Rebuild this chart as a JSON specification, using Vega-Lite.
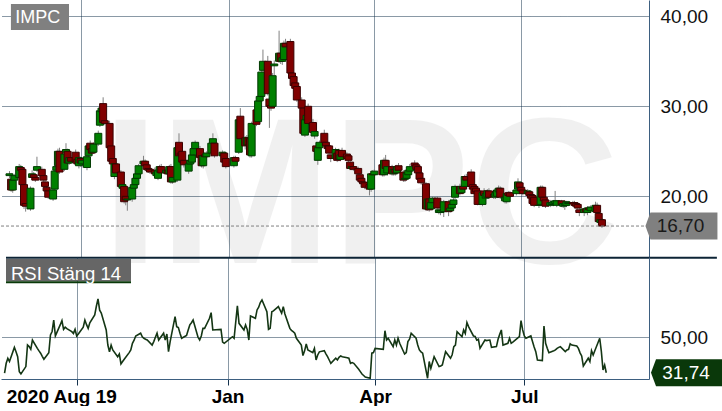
{
  "$schema": "https://vega.github.io/schema/vega-lite/v6.json",
  "padding": 0,
  "background": "white",
  "bounds": "flush",
  "spacing": 0,
  "config": {
    "view": {"stroke": null},
    "font": "Liberation Sans",
    "locale": {"number": {"decimal": ",", "thousands": " ", "grouping": [3], "currency": ["", " kr"]}}
  },
  "datasets": {
    "last": [{"price": 16.70, "rsi": 31.74}],
    "ohlc": [
      {"d":"2020-08-18","o":22.3,"h":22.8,"l":22.0,"c":22.5,"r":31.5},
      {"d":"2020-08-19","o":21.9,"h":22.6,"l":20.5,"c":20.7,"r":36.6},
      {"d":"2020-08-20","o":20.7,"h":22.0,"l":20.4,"c":21.8,"r":39.2},
      {"d":"2020-08-21","o":21.8,"h":22.5,"l":21.6,"c":22.3,"r":37.5},
      {"d":"2020-08-24","o":22.1,"h":23.6,"l":21.9,"c":23.3,"r":44.8},
      {"d":"2020-08-25","o":23.2,"h":23.5,"l":22.7,"c":22.9,"r":42.6},
      {"d":"2020-08-26","o":23.0,"h":23.2,"l":21.1,"c":21.3,"r":40.0},
      {"d":"2020-08-27","o":21.3,"h":21.9,"l":18.6,"c":19.0,"r":32.3},
      {"d":"2020-08-28","o":19.2,"h":19.7,"l":18.3,"c":18.9,"r":31.1},
      {"d":"2020-08-31","o":18.6,"h":21.1,"l":18.4,"c":20.9,"r":34.9},
      {"d":"2020-09-01","o":22.1,"h":22.9,"l":21.8,"c":22.5,"r":46.0},
      {"d":"2020-09-02","o":22.4,"h":22.7,"l":21.9,"c":22.1,"r":45.2},
      {"d":"2020-09-03","o":22.1,"h":22.3,"l":21.6,"c":21.8,"r":43.8},
      {"d":"2020-09-04","o":22.9,"h":24.4,"l":22.7,"c":23.3,"r":48.6},
      {"d":"2020-09-07","o":23.0,"h":23.3,"l":22.1,"c":22.3,"r":44.3},
      {"d":"2020-09-08","o":22.3,"h":22.5,"l":21.6,"c":21.8,"r":43.0},
      {"d":"2020-09-09","o":21.6,"h":21.8,"l":21.0,"c":21.1,"r":41.8},
      {"d":"2020-09-10","o":21.0,"h":21.2,"l":20.4,"c":20.6,"r":40.2},
      {"d":"2020-09-11","o":20.6,"h":20.8,"l":19.7,"c":19.9,"r":38.7},
      {"d":"2020-09-14","o":19.7,"h":20.9,"l":19.5,"c":20.7,"r":42.0},
      {"d":"2020-09-15","o":20.8,"h":23.0,"l":20.6,"c":22.8,"r":51.2},
      {"d":"2020-09-16","o":22.9,"h":23.6,"l":22.6,"c":23.3,"r":53.0},
      {"d":"2020-09-17","o":23.4,"h":25.3,"l":23.2,"c":25.0,"r":58.9},
      {"d":"2020-09-18","o":25.0,"h":25.4,"l":22.5,"c":22.7,"r":50.7},
      {"d":"2020-09-21","o":23.0,"h":24.9,"l":22.8,"c":24.7,"r":56.5},
      {"d":"2020-09-22","o":24.9,"h":25.9,"l":24.6,"c":25.2,"r":58.6},
      {"d":"2020-09-23","o":25.0,"h":25.3,"l":23.5,"c":23.7,"r":54.1},
      {"d":"2020-09-24","o":23.7,"h":24.5,"l":23.5,"c":24.3,"r":55.2},
      {"d":"2020-09-25","o":24.3,"h":24.6,"l":23.6,"c":23.9,"r":54.5},
      {"d":"2020-09-28","o":24.9,"h":25.2,"l":23.6,"c":23.8,"r":52.9},
      {"d":"2020-09-29","o":24.1,"h":24.3,"l":23.4,"c":23.6,"r":52.0},
      {"d":"2020-09-30","o":23.4,"h":24.5,"l":23.1,"c":24.3,"r":54.1},
      {"d":"2020-10-01","o":24.2,"h":24.4,"l":23.3,"c":23.7,"r":50.7},
      {"d":"2020-10-02","o":23.6,"h":24.2,"l":23.2,"c":24.0,"r":51.7},
      {"d":"2020-10-05","o":23.2,"h":24.6,"l":22.9,"c":24.4,"r":55.2},
      {"d":"2020-10-06","o":24.5,"h":25.8,"l":24.3,"c":25.6,"r":58.9},
      {"d":"2020-10-07","o":25.9,"h":26.2,"l":25.0,"c":25.2,"r":56.5},
      {"d":"2020-10-08","o":25.3,"h":25.6,"l":24.6,"c":24.8,"r":54.6},
      {"d":"2020-10-09","o":24.9,"h":26.0,"l":24.7,"c":25.8,"r":57.5},
      {"d":"2020-10-12","o":25.8,"h":27.3,"l":25.6,"c":27.0,"r":61.5},
      {"d":"2020-10-13","o":27.9,"h":29.7,"l":27.7,"c":29.5,"r":66.0},
      {"d":"2020-10-14","o":29.4,"h":30.1,"l":29.0,"c":29.8,"r":69.8},
      {"d":"2020-10-15","o":30.3,"h":31.0,"l":28.0,"c":28.2,"r":64.0},
      {"d":"2020-10-16","o":28.4,"h":28.7,"l":27.9,"c":28.1,"r":62.5},
      {"d":"2020-10-19","o":28.1,"h":28.4,"l":25.2,"c":25.4,"r":53.8},
      {"d":"2020-10-20","o":25.6,"h":25.9,"l":23.7,"c":23.9,"r":46.0},
      {"d":"2020-10-21","o":24.2,"h":24.6,"l":23.4,"c":23.6,"r":42.5},
      {"d":"2020-10-22","o":22.2,"h":23.8,"l":21.9,"c":23.6,"r":46.0},
      {"d":"2020-10-23","o":23.6,"h":23.8,"l":22.4,"c":22.6,"r":43.5},
      {"d":"2020-10-26","o":22.7,"h":22.9,"l":20.9,"c":21.1,"r":40.0},
      {"d":"2020-10-27","o":20.9,"h":21.5,"l":20.7,"c":21.3,"r":41.4},
      {"d":"2020-10-28","o":21.1,"h":21.3,"l":19.2,"c":19.4,"r":36.3},
      {"d":"2020-10-29","o":20.0,"h":20.3,"l":19.0,"c":19.6,"r":37.5},
      {"d":"2020-10-30","o":19.6,"h":20.0,"l":18.4,"c":19.7,"r":38.7},
      {"d":"2020-11-02","o":19.7,"h":21.2,"l":19.4,"c":21.0,"r":42.1},
      {"d":"2020-11-03","o":20.9,"h":21.6,"l":20.6,"c":21.3,"r":43.5},
      {"d":"2020-11-04","o":21.3,"h":22.2,"l":21.0,"c":22.0,"r":46.9},
      {"d":"2020-11-05","o":22.0,"h":22.8,"l":21.8,"c":22.5,"r":48.5},
      {"d":"2020-11-06","o":22.5,"h":23.6,"l":22.3,"c":23.4,"r":50.7},
      {"d":"2020-11-09","o":23.6,"h":24.5,"l":23.4,"c":23.9,"r":52.1},
      {"d":"2020-11-10","o":23.9,"h":24.1,"l":23.2,"c":23.4,"r":50.3},
      {"d":"2020-11-11","o":23.5,"h":23.9,"l":22.9,"c":23.0,"r":49.5},
      {"d":"2020-11-12","o":23.1,"h":23.3,"l":22.6,"c":22.9,"r":49.0},
      {"d":"2020-11-13","o":23.0,"h":23.3,"l":22.5,"c":22.7,"r":48.6},
      {"d":"2020-11-16","o":22.9,"h":23.2,"l":22.3,"c":22.5,"r":46.0},
      {"d":"2020-11-17","o":22.3,"h":22.9,"l":22.0,"c":22.7,"r":47.8},
      {"d":"2020-11-18","o":22.0,"h":23.1,"l":21.8,"c":22.9,"r":50.0},
      {"d":"2020-11-19","o":22.7,"h":23.5,"l":22.4,"c":23.3,"r":52.1},
      {"d":"2020-11-20","o":23.3,"h":23.6,"l":22.4,"c":22.6,"r":48.6},
      {"d":"2020-11-23","o":22.6,"h":23.2,"l":22.4,"c":22.9,"r":52.1},
      {"d":"2020-11-24","o":22.9,"h":23.1,"l":22.3,"c":22.5,"r":48.6},
      {"d":"2020-11-25","o":22.5,"h":23.5,"l":22.4,"c":23.3,"r":51.7},
      {"d":"2020-11-26","o":23.3,"h":23.6,"l":21.4,"c":21.6,"r":42.6},
      {"d":"2020-11-27","o":21.6,"h":22.3,"l":21.4,"c":22.1,"r":47.8},
      {"d":"2020-11-30","o":21.8,"h":25.6,"l":21.6,"c":25.4,"r":60.7},
      {"d":"2020-12-01","o":26.0,"h":27.0,"l":24.3,"c":24.5,"r":55.5},
      {"d":"2020-12-02","o":24.8,"h":25.1,"l":24.0,"c":24.6,"r":55.0},
      {"d":"2020-12-03","o":25.0,"h":25.3,"l":23.6,"c":23.8,"r":52.1},
      {"d":"2020-12-04","o":24.0,"h":24.2,"l":23.2,"c":23.5,"r":49.5},
      {"d":"2020-12-07","o":22.8,"h":23.7,"l":22.5,"c":23.6,"r":51.0},
      {"d":"2020-12-08","o":23.6,"h":24.2,"l":23.3,"c":24.0,"r":53.8},
      {"d":"2020-12-09","o":23.8,"h":24.8,"l":23.5,"c":24.6,"r":56.4},
      {"d":"2020-12-10","o":24.6,"h":25.5,"l":24.4,"c":25.3,"r":57.5},
      {"d":"2020-12-11","o":25.3,"h":26.2,"l":25.1,"c":26.0,"r":58.9},
      {"d":"2020-12-14","o":25.3,"h":25.6,"l":24.1,"c":24.3,"r":50.0},
      {"d":"2020-12-15","o":24.5,"h":24.7,"l":23.2,"c":23.4,"r":48.6},
      {"d":"2020-12-16","o":23.4,"h":24.7,"l":23.1,"c":24.5,"r":50.7},
      {"d":"2020-12-17","o":24.6,"h":24.9,"l":24.2,"c":24.4,"r":54.6},
      {"d":"2020-12-18","o":24.4,"h":25.0,"l":24.2,"c":24.8,"r":54.6},
      {"d":"2020-12-21","o":24.8,"h":26.1,"l":24.6,"c":25.9,"r":59.8},
      {"d":"2020-12-22","o":25.9,"h":27.0,"l":25.7,"c":26.4,"r":62.7},
      {"d":"2020-12-23","o":25.9,"h":26.1,"l":24.3,"c":24.5,"r":53.8},
      {"d":"2020-12-28","o":24.5,"h":25.1,"l":24.2,"c":24.9,"r":54.1},
      {"d":"2020-12-29","o":24.8,"h":25.0,"l":23.6,"c":23.8,"r":47.5},
      {"d":"2020-12-30","o":24.2,"h":24.5,"l":23.1,"c":23.3,"r":46.9},
      {"d":"2021-01-04","o":23.4,"h":24.5,"l":23.2,"c":24.3,"r":50.3},
      {"d":"2021-01-05","o":24.3,"h":24.5,"l":23.7,"c":23.9,"r":49.5},
      {"d":"2021-01-07","o":24.9,"h":28.7,"l":24.7,"c":28.5,"r":66.2},
      {"d":"2021-01-08","o":28.9,"h":29.8,"l":26.2,"c":26.4,"r":57.2},
      {"d":"2021-01-11","o":26.5,"h":26.7,"l":25.2,"c":25.6,"r":53.8},
      {"d":"2021-01-12","o":25.7,"h":26.8,"l":25.5,"c":26.5,"r":56.4},
      {"d":"2021-01-13","o":26.5,"h":26.8,"l":25.4,"c":25.7,"r":54.1},
      {"d":"2021-01-14","o":26.4,"h":26.6,"l":24.3,"c":24.6,"r":48.6},
      {"d":"2021-01-15","o":24.5,"h":28.3,"l":24.3,"c":28.1,"r":61.0},
      {"d":"2021-01-18","o":29.6,"h":30.0,"l":27.8,"c":28.0,"r":59.8},
      {"d":"2021-01-19","o":28.3,"h":30.8,"l":28.1,"c":30.6,"r":64.1},
      {"d":"2021-01-20","o":30.6,"h":31.5,"l":30.4,"c":31.1,"r":65.5},
      {"d":"2021-01-21","o":31.1,"h":34.2,"l":30.9,"c":33.8,"r":67.9},
      {"d":"2021-01-22","o":34.0,"h":36.3,"l":33.6,"c":35.0,"r":69.2},
      {"d":"2021-01-25","o":35.0,"h":35.6,"l":31.2,"c":31.4,"r":63.2},
      {"d":"2021-01-26","o":30.8,"h":31.0,"l":27.6,"c":30.0,"r":54.1},
      {"d":"2021-01-27","o":30.1,"h":30.4,"l":29.5,"c":29.8,"r":54.6},
      {"d":"2021-01-28","o":30.0,"h":33.7,"l":29.8,"c":33.4,"r":63.2},
      {"d":"2021-01-29","o":34.5,"h":35.1,"l":33.4,"c":34.7,"r":63.6},
      {"d":"2021-02-01","o":35.0,"h":38.4,"l":34.8,"c":35.9,"r":65.8},
      {"d":"2021-02-02","o":35.9,"h":36.8,"l":34.7,"c":35.0,"r":64.1},
      {"d":"2021-02-03","o":35.0,"h":36.0,"l":34.6,"c":35.4,"r":62.4},
      {"d":"2021-02-04","o":35.2,"h":37.3,"l":35.0,"c":37.0,"r":65.8},
      {"d":"2021-02-05","o":37.0,"h":37.5,"l":36.2,"c":36.6,"r":62.0},
      {"d":"2021-02-08","o":37.2,"h":37.5,"l":33.5,"c":33.7,"r":54.6},
      {"d":"2021-02-09","o":33.7,"h":34.0,"l":32.9,"c":33.1,"r":53.5},
      {"d":"2021-02-10","o":33.3,"h":33.6,"l":32.1,"c":32.3,"r":52.9},
      {"d":"2021-02-11","o":32.6,"h":32.9,"l":31.8,"c":32.0,"r":52.1},
      {"d":"2021-02-12","o":32.2,"h":32.5,"l":30.5,"c":30.7,"r":49.5},
      {"d":"2021-02-15","o":30.7,"h":31.0,"l":29.6,"c":29.8,"r":46.0},
      {"d":"2021-02-16","o":29.8,"h":30.0,"l":26.8,"c":27.0,"r":40.6},
      {"d":"2021-02-17","o":26.8,"h":28.7,"l":26.6,"c":28.5,"r":43.0},
      {"d":"2021-02-18","o":28.5,"h":29.3,"l":28.2,"c":29.0,"r":46.6},
      {"d":"2021-02-19","o":30.0,"h":30.3,"l":27.9,"c":28.1,"r":43.5},
      {"d":"2021-02-22","o":28.2,"h":28.6,"l":26.9,"c":27.1,"r":42.1},
      {"d":"2021-02-23","o":26.7,"h":27.4,"l":26.4,"c":27.2,"r":44.3},
      {"d":"2021-02-24","o":25.6,"h":25.9,"l":24.8,"c":25.0,"r":38.3},
      {"d":"2021-02-25","o":24.0,"h":25.6,"l":23.5,"c":25.4,"r":40.9},
      {"d":"2021-02-26","o":25.4,"h":26.2,"l":25.1,"c":26.0,"r":42.5},
      {"d":"2021-03-01","o":27.0,"h":27.4,"l":25.8,"c":26.0,"r":43.1},
      {"d":"2021-03-02","o":26.0,"h":26.3,"l":25.4,"c":25.6,"r":41.5},
      {"d":"2021-03-03","o":25.6,"h":25.9,"l":25.0,"c":25.3,"r":40.0},
      {"d":"2021-03-04","o":25.6,"h":25.8,"l":24.6,"c":24.8,"r":38.3},
      {"d":"2021-03-05","o":24.6,"h":24.8,"l":23.8,"c":24.2,"r":36.6},
      {"d":"2021-03-08","o":24.2,"h":25.4,"l":24.0,"c":25.2,"r":39.2},
      {"d":"2021-03-09","o":24.8,"h":25.1,"l":23.8,"c":24.0,"r":38.3},
      {"d":"2021-03-10","o":25.1,"h":25.3,"l":23.9,"c":24.1,"r":39.7},
      {"d":"2021-03-11","o":24.1,"h":24.8,"l":23.9,"c":24.6,"r":40.4},
      {"d":"2021-03-12","o":25.1,"h":25.4,"l":24.2,"c":24.4,"r":40.0},
      {"d":"2021-03-15","o":24.7,"h":24.9,"l":24.0,"c":24.2,"r":39.5},
      {"d":"2021-03-16","o":24.5,"h":24.7,"l":23.8,"c":24.0,"r":39.2},
      {"d":"2021-03-17","o":23.8,"h":24.0,"l":22.9,"c":23.1,"r":36.6},
      {"d":"2021-03-18","o":23.1,"h":23.5,"l":22.9,"c":23.3,"r":37.0},
      {"d":"2021-03-19","o":23.3,"h":23.5,"l":22.8,"c":23.0,"r":36.6},
      {"d":"2021-03-22","o":23.1,"h":23.3,"l":22.3,"c":22.5,"r":33.5},
      {"d":"2021-03-23","o":22.4,"h":22.6,"l":21.6,"c":21.8,"r":32.3},
      {"d":"2021-03-24","o":22.0,"h":22.2,"l":21.4,"c":21.6,"r":31.1},
      {"d":"2021-03-25","o":21.6,"h":21.8,"l":21.2,"c":21.4,"r":30.3},
      {"d":"2021-03-26","o":21.5,"h":21.7,"l":20.8,"c":21.0,"r":29.5},
      {"d":"2021-03-29","o":21.3,"h":21.5,"l":20.1,"c":20.8,"r":28.9},
      {"d":"2021-03-30","o":20.8,"h":22.8,"l":20.5,"c":22.5,"r":41.8},
      {"d":"2021-03-31","o":22.5,"h":22.9,"l":22.2,"c":22.4,"r":42.1},
      {"d":"2021-04-01","o":22.4,"h":23.0,"l":22.2,"c":22.8,"r":44.3},
      {"d":"2021-04-06","o":23.5,"h":24.0,"l":22.2,"c":22.4,"r":43.8},
      {"d":"2021-04-07","o":22.4,"h":24.3,"l":22.2,"c":24.0,"r":53.4},
      {"d":"2021-04-08","o":24.0,"h":24.6,"l":22.9,"c":23.1,"r":48.6},
      {"d":"2021-04-09","o":22.6,"h":23.5,"l":22.3,"c":23.3,"r":49.5},
      {"d":"2021-04-12","o":23.3,"h":23.5,"l":22.3,"c":22.5,"r":45.2},
      {"d":"2021-04-13","o":22.5,"h":23.2,"l":22.3,"c":23.0,"r":48.6},
      {"d":"2021-04-14","o":23.0,"h":23.2,"l":22.3,"c":22.6,"r":46.0},
      {"d":"2021-04-15","o":22.6,"h":23.5,"l":22.4,"c":23.3,"r":49.5},
      {"d":"2021-04-16","o":23.4,"h":23.7,"l":22.7,"c":22.9,"r":46.9},
      {"d":"2021-04-19","o":22.7,"h":22.9,"l":21.6,"c":21.8,"r":41.4},
      {"d":"2021-04-20","o":21.9,"h":22.3,"l":21.6,"c":22.0,"r":42.1},
      {"d":"2021-04-21","o":22.0,"h":22.9,"l":21.8,"c":22.6,"r":47.8},
      {"d":"2021-04-22","o":22.4,"h":23.1,"l":22.2,"c":22.9,"r":49.0},
      {"d":"2021-04-23","o":22.8,"h":23.6,"l":22.5,"c":23.3,"r":52.1},
      {"d":"2021-04-26","o":23.7,"h":24.0,"l":23.2,"c":23.4,"r":49.5},
      {"d":"2021-04-27","o":23.5,"h":23.7,"l":22.8,"c":23.0,"r":46.0},
      {"d":"2021-04-28","o":23.3,"h":23.5,"l":22.4,"c":22.6,"r":43.5},
      {"d":"2021-04-29","o":22.6,"h":22.8,"l":21.7,"c":21.9,"r":42.5},
      {"d":"2021-04-30","o":22.0,"h":22.2,"l":21.3,"c":21.5,"r":41.8},
      {"d":"2021-05-03","o":21.4,"h":21.6,"l":18.4,"c":18.6,"r":28.9},
      {"d":"2021-05-04","o":18.6,"h":19.9,"l":18.4,"c":19.7,"r":37.5},
      {"d":"2021-05-05","o":19.7,"h":19.9,"l":18.3,"c":18.5,"r":34.0},
      {"d":"2021-05-06","o":18.6,"h":19.5,"l":18.5,"c":19.3,"r":37.0},
      {"d":"2021-05-07","o":19.3,"h":20.0,"l":19.1,"c":19.8,"r":40.0},
      {"d":"2021-05-10","o":19.8,"h":20.0,"l":18.5,"c":18.7,"r":34.9},
      {"d":"2021-05-11","o":18.2,"h":18.7,"l":18.0,"c":18.5,"r":35.2},
      {"d":"2021-05-12","o":18.2,"h":18.6,"l":17.9,"c":18.4,"r":35.7},
      {"d":"2021-05-14","o":18.3,"h":19.6,"l":17.7,"c":19.4,"r":42.6},
      {"d":"2021-05-17","o":19.4,"h":19.6,"l":17.8,"c":18.3,"r":39.2},
      {"d":"2021-05-18","o":18.4,"h":18.9,"l":18.2,"c":18.7,"r":41.0},
      {"d":"2021-05-19","o":18.7,"h":19.3,"l":18.5,"c":19.1,"r":45.2},
      {"d":"2021-05-20","o":19.1,"h":19.8,"l":18.9,"c":19.6,"r":46.0},
      {"d":"2021-05-21","o":19.9,"h":21.3,"l":19.7,"c":21.1,"r":52.9},
      {"d":"2021-05-24","o":21.1,"h":21.4,"l":20.1,"c":20.3,"r":50.3},
      {"d":"2021-05-25","o":20.4,"h":21.3,"l":20.3,"c":21.1,"r":53.8},
      {"d":"2021-05-26","o":21.1,"h":21.4,"l":20.5,"c":20.8,"r":52.0},
      {"d":"2021-05-27","o":21.1,"h":22.4,"l":20.9,"c":22.2,"r":57.6},
      {"d":"2021-05-28","o":22.2,"h":22.5,"l":21.5,"c":21.8,"r":55.5},
      {"d":"2021-05-31","o":22.7,"h":23.0,"l":20.9,"c":21.1,"r":50.7},
      {"d":"2021-06-01","o":21.3,"h":21.5,"l":20.6,"c":20.8,"r":50.5},
      {"d":"2021-06-02","o":21.1,"h":21.3,"l":20.1,"c":20.3,"r":48.5},
      {"d":"2021-06-03","o":20.9,"h":21.1,"l":20.3,"c":20.5,"r":49.0},
      {"d":"2021-06-04","o":20.6,"h":20.8,"l":19.0,"c":19.1,"r":44.3},
      {"d":"2021-06-07","o":19.1,"h":20.6,"l":18.9,"c":20.4,"r":48.6},
      {"d":"2021-06-08","o":20.6,"h":20.9,"l":19.9,"c":20.1,"r":48.3},
      {"d":"2021-06-09","o":19.8,"h":20.5,"l":19.6,"c":20.3,"r":48.5},
      {"d":"2021-06-10","o":19.9,"h":20.8,"l":19.7,"c":20.6,"r":48.6},
      {"d":"2021-06-11","o":20.6,"h":20.9,"l":19.7,"c":19.9,"r":44.8},
      {"d":"2021-06-14","o":20.2,"h":20.6,"l":19.7,"c":20.0,"r":45.2},
      {"d":"2021-06-15","o":19.9,"h":20.6,"l":19.7,"c":20.4,"r":49.0},
      {"d":"2021-06-16","o":20.0,"h":21.0,"l":19.8,"c":20.7,"r":51.5},
      {"d":"2021-06-17","o":20.5,"h":21.2,"l":20.3,"c":20.9,"r":53.8},
      {"d":"2021-06-18","o":20.9,"h":21.1,"l":19.7,"c":19.9,"r":46.0},
      {"d":"2021-06-21","o":19.5,"h":20.1,"l":19.2,"c":19.9,"r":46.9},
      {"d":"2021-06-22","o":19.4,"h":20.5,"l":19.2,"c":20.3,"r":49.5},
      {"d":"2021-06-23","o":20.4,"h":20.6,"l":19.9,"c":20.1,"r":46.9},
      {"d":"2021-06-24","o":20.4,"h":20.6,"l":19.8,"c":20.0,"r":47.5},
      {"d":"2021-06-28","o":20.3,"h":20.9,"l":20.1,"c":20.7,"r":50.3},
      {"d":"2021-06-29","o":20.8,"h":22.0,"l":20.7,"c":21.6,"r":58.6},
      {"d":"2021-06-30","o":21.5,"h":21.6,"l":20.8,"c":21.0,"r":53.8},
      {"d":"2021-07-01","o":21.0,"h":21.2,"l":20.4,"c":20.6,"r":50.7},
      {"d":"2021-07-02","o":20.7,"h":20.9,"l":20.1,"c":20.3,"r":49.5},
      {"d":"2021-07-05","o":20.3,"h":20.8,"l":20.1,"c":20.6,"r":50.7},
      {"d":"2021-07-06","o":20.5,"h":20.7,"l":19.9,"c":20.1,"r":47.8},
      {"d":"2021-07-07","o":20.2,"h":20.4,"l":19.6,"c":19.8,"r":45.0},
      {"d":"2021-07-08","o":20.1,"h":20.3,"l":19.0,"c":19.2,"r":42.6},
      {"d":"2021-07-09","o":19.9,"h":20.1,"l":18.8,"c":19.0,"r":38.3},
      {"d":"2021-07-12","o":19.0,"h":19.4,"l":18.7,"c":19.0,"r":38.0},
      {"d":"2021-07-13","o":19.1,"h":21.2,"l":18.9,"c":21.0,"r":55.8},
      {"d":"2021-07-14","o":21.0,"h":21.2,"l":19.6,"c":19.9,"r":46.9},
      {"d":"2021-07-15","o":19.9,"h":20.1,"l":19.2,"c":19.5,"r":44.3},
      {"d":"2021-07-16","o":19.6,"h":19.9,"l":18.7,"c":18.9,"r":42.1},
      {"d":"2021-07-19","o":19.0,"h":19.6,"l":18.8,"c":19.3,"r":43.1},
      {"d":"2021-07-20","o":19.1,"h":19.5,"l":18.9,"c":19.3,"r":43.5},
      {"d":"2021-07-21","o":19.1,"h":19.6,"l":18.9,"c":19.4,"r":44.3},
      {"d":"2021-07-22","o":19.2,"h":20.6,"l":19.0,"c":19.5,"r":44.8},
      {"d":"2021-07-23","o":19.0,"h":19.6,"l":18.8,"c":19.5,"r":45.2},
      {"d":"2021-07-26","o":19.5,"h":19.6,"l":18.8,"c":19.1,"r":42.6},
      {"d":"2021-07-27","o":18.9,"h":19.5,"l":18.7,"c":19.2,"r":43.5},
      {"d":"2021-07-28","o":19.0,"h":19.4,"l":18.5,"c":19.2,"r":43.8},
      {"d":"2021-07-29","o":19.0,"h":19.5,"l":18.8,"c":19.4,"r":46.6},
      {"d":"2021-07-30","o":19.2,"h":19.5,"l":18.9,"c":19.3,"r":46.0},
      {"d":"2021-08-02","o":19.3,"h":19.5,"l":18.9,"c":19.2,"r":45.5},
      {"d":"2021-08-03","o":19.3,"h":19.5,"l":18.8,"c":19.0,"r":44.3},
      {"d":"2021-08-04","o":19.2,"h":19.3,"l":18.6,"c":18.9,"r":42.0},
      {"d":"2021-08-05","o":19.1,"h":19.3,"l":18.5,"c":18.7,"r":40.4},
      {"d":"2021-08-06","o":18.5,"h":18.7,"l":17.8,"c":18.2,"r":35.2},
      {"d":"2021-08-09","o":18.2,"h":18.7,"l":17.8,"c":18.6,"r":39.2},
      {"d":"2021-08-10","o":18.6,"h":18.8,"l":18.1,"c":18.3,"r":37.5},
      {"d":"2021-08-11","o":18.2,"h":18.9,"l":17.9,"c":18.7,"r":43.1},
      {"d":"2021-08-12","o":18.7,"h":18.9,"l":18.2,"c":18.5,"r":40.9},
      {"d":"2021-08-13","o":18.4,"h":19.0,"l":18.2,"c":18.8,"r":43.1},
      {"d":"2021-08-16","o":18.3,"h":19.4,"l":18.2,"c":19.0,"r":49.5},
      {"d":"2021-08-17","o":19.0,"h":19.3,"l":18.0,"c":18.2,"r":42.6},
      {"d":"2021-08-18","o":18.1,"h":18.3,"l":17.0,"c":17.2,"r":33.2},
      {"d":"2021-08-19","o":17.1,"h":17.6,"l":16.9,"c":17.4,"r":35.7},
      {"d":"2021-08-20","o":17.4,"h":17.6,"l":16.5,"c":16.7,"r":31.74}
    ]
  },
  "vconcat": [
    {
      "width": 648,
      "height": 257,
      "layer": [
        {
          "data": {"values": [{"t": "IMPC"}]},
          "mark": {"type": "text", "font": "Liberation Sans", "fontSize": 207, "fontWeight": "bold", "fill": "#000000", "opacity": 0.055, "align": "center", "baseline": "alphabetic"},
          "encoding": {
            "x": {
              "datum": {"year": 2021, "month": 3, "date": 23, "hours": 10, "utc": true}, "type": "temporal",
              "scale": {"type": "utc", "domain": [{"year": 2020, "month": 8, "date": 15, "hours": 20, "utc": true}, {"year": 2021, "month": 9, "date": 15, "hours": 1, "minutes": 18, "utc": true}]},
              "axis": {
                "title": null, "labels": false, "ticks": false, "domain": false,
                "values": [{"year": 2020, "month": 10, "date": 1, "utc": true}, {"year": 2021, "month": 1, "date": 1, "utc": true}, {"year": 2021, "month": 4, "date": 1, "utc": true}, {"year": 2021, "month": 7, "date": 1, "utc": true}],
                "grid": true, "gridColor": "#15324d", "gridDash": [1, 1], "gridWidth": 1
              }
            },
            "y": {
              "datum": 12.59, "type": "quantitative",
              "scale": {"domain": [13.26, 41.81], "nice": false, "zero": false},
              "axis": {
                "title": null, "orient": "right", "values": [20, 30, 40], "format": ".2f",
                "labelFont": "Liberation Sans", "labelFontSize": 19, "labelColor": "#111111", "labelPadding": 11,
                "ticks": false, "domain": true, "domainColor": "#3d5f80", "domainWidth": 1,
                "grid": true, "gridColor": "#15324d", "gridDash": [1, 1], "gridWidth": 1
              }
            },
            "text": {"field": "t"}
          }
        },
        {
          "data": {"values": [{}]},
          "mark": {"type": "rect", "fill": "#808080"},
          "encoding": {
            "x": {"datum": {"year": 2020, "month": 8, "date": 18, "hours": 21, "minutes": 12, "utc": true}, "type": "temporal"},
            "x2": {"datum": {"year": 2020, "month": 9, "date": 23, "hours": 20, "minutes": 45, "utc": true}},
            "y": {"datum": 41.37, "type": "quantitative"},
            "y2": {"datum": 38.48}
          }
        },
        {
          "data": {"values": [{"t": "IMPC"}]},
          "mark": {"type": "text", "font": "Liberation Sans", "fontSize": 18, "fill": "#ffffff", "align": "left", "baseline": "alphabetic"},
          "encoding": {
            "x": {"datum": {"year": 2020, "month": 8, "date": 21, "hours": 15, "utc": true}, "type": "temporal"},
            "y": {"datum": 39.29, "type": "quantitative"},
            "text": {"field": "t"}
          }
        },
        {
          "data": {"name": "ohlc"},
          "mark": {"type": "rule", "stroke": "#808080", "strokeWidth": 1},
          "encoding": {
            "x": {"field": "d", "type": "temporal", "title": null},
            "y": {"field": "l", "type": "quantitative", "title": null},
            "y2": {"field": "h"}
          }
        },
        {
          "data": {"name": "ohlc"},
          "mark": {"type": "bar", "size": 7, "strokeWidth": 1},
          "encoding": {
            "x": {"field": "d", "type": "temporal", "title": null},
            "y": {"field": "o", "type": "quantitative", "title": null},
            "y2": {"field": "c"},
            "fill": {"condition": {"test": "datum.c >= datum.o", "value": "#008000"}, "value": "#800000"},
            "stroke": {"condition": {"test": "datum.c >= datum.o", "value": "#003a00"}, "value": "#3a0000"}
          }
        },
        {
          "data": {"name": "last"},
          "mark": {"type": "rule", "stroke": "#808080", "strokeWidth": 1, "strokeDash": [3, 2]},
          "encoding": {
            "y": {"field": "price", "type": "quantitative", "title": null}
          }
        },
        {
          "data": {"values": [{}]},
          "mark": {"type": "rule", "stroke": "#0d2436", "strokeWidth": 2},
          "encoding": {
            "x": {"datum": {"year": 2020, "month": 8, "date": 15, "hours": 20, "utc": true}, "type": "temporal"},
            "x2": {"datum": {"year": 2021, "month": 10, "date": 30, "hours": 5, "utc": true}},
            "y": {"datum": 13.19, "type": "quantitative"}
          }
        },
        {
          "data": {"name": "last"},
          "mark": {"type": "point", "shape": "M-1,0L-0.86,-0.375L1,-0.375L1,0.375L-0.86,0.375Z", "size": 5184, "filled": true, "fill": "#808080", "opacity": 1, "strokeWidth": 0},
          "encoding": {
            "x": {"datum": {"year": 2021, "month": 10, "date": 8, "hours": 5, "minutes": 36, "utc": true}, "type": "temporal"},
            "y": {"field": "price", "type": "quantitative", "title": null}
          }
        },
        {
          "data": {"name": "last"},
          "mark": {"type": "text", "font": "Liberation Sans", "fontSize": 19, "fill": "#1a1a1a", "align": "center", "baseline": "middle"},
          "encoding": {
            "x": {"datum": {"year": 2021, "month": 10, "date": 7, "hours": 15, "utc": true}, "type": "temporal"},
            "y": {"field": "price", "type": "quantitative", "title": null},
            "text": {"field": "price", "type": "quantitative", "format": ".2f"}
          }
        }
      ]
    },
    {
      "width": 648,
      "height": 122,
      "layer": [
        {
          "data": {"values": [{}]},
          "mark": {"type": "rect", "fill": "#666666"},
          "encoding": {
            "x": {
              "datum": {"year": 2020, "month": 8, "date": 18, "hours": 21, "minutes": 12, "utc": true}, "type": "temporal",
              "scale": {"type": "utc", "domain": [{"year": 2020, "month": 8, "date": 15, "hours": 20, "utc": true}, {"year": 2021, "month": 9, "date": 15, "hours": 1, "minutes": 18, "utc": true}]},
              "axis": {
                "title": null,
                "values": [{"year": 2020, "month": 8, "date": 19, "utc": true}, {"year": 2020, "month": 10, "date": 1, "utc": true}, {"year": 2021, "month": 1, "date": 1, "utc": true}, {"year": 2021, "month": 4, "date": 1, "utc": true}, {"year": 2021, "month": 7, "date": 1, "utc": true}],
                "labelExpr": "utcmonth(datum.value) == 7 ? '2020 Aug 19' : utcmonth(datum.value) == 0 ? 'Jan' : utcmonth(datum.value) == 3 ? 'Apr' : utcmonth(datum.value) == 6 ? 'Jul' : ''",
                "labelAlign": {"condition": {"test": "utcmonth(datum.value) == 7", "value": "left"}, "value": "center"},
                "labelFont": "Liberation Sans", "labelFontWeight": "bold", "labelFontSize": 19, "labelColor": "#000000",
                "labelFlush": false, "labelOverlap": false, "labelPadding": 2, "labelBound": false,
                "tickSize": 6, "tickWidth": 1,
                "tickColor": {"condition": {"test": "utcmonth(datum.value) == 7", "value": "transparent"}, "value": "#15324d"},
                "grid": true, "gridDash": [1, 1], "gridWidth": 1,
                "gridColor": {"condition": {"test": "utcmonth(datum.value) == 7", "value": "transparent"}, "value": "#15324d"},
                "domain": true, "domainColor": "#3d5f80", "domainWidth": 1
              }
            },
            "x2": {"datum": {"year": 2020, "month": 11, "date": 3, "hours": 3, "utc": true}},
            "y": {
              "datum": 90.37, "type": "quantitative",
              "scale": {"domain": [28.5, 91.4], "nice": false, "zero": false},
              "axis": {
                "title": null, "orient": "right", "values": [50], "format": ".2f",
                "labelFont": "Liberation Sans", "labelFontSize": 19, "labelColor": "#111111", "labelPadding": 11,
                "ticks": false, "domain": true, "domainColor": "#3d5f80", "domainWidth": 1,
                "grid": true, "gridColor": "#15324d", "gridDash": [1, 1], "gridWidth": 1
              }
            },
            "y2": {"datum": 78.87}
          }
        },
        {
          "data": {"values": [{}]},
          "mark": {"type": "rect", "fill": "#0a3a0a"},
          "encoding": {
            "x": {"datum": {"year": 2020, "month": 8, "date": 18, "hours": 21, "minutes": 12, "utc": true}, "type": "temporal"},
            "x2": {"datum": {"year": 2020, "month": 11, "date": 3, "hours": 3, "utc": true}},
            "y": {"datum": 78.87, "type": "quantitative"},
            "y2": {"datum": 77.84}
          }
        },
        {
          "data": {"values": [{"t": "RSI Stäng 14"}]},
          "mark": {"type": "text", "font": "Liberation Sans", "fontSize": 18.5, "fill": "#ffffff", "align": "left", "baseline": "alphabetic"},
          "encoding": {
            "x": {"datum": {"year": 2020, "month": 8, "date": 21, "hours": 22, "utc": true}, "type": "temporal"},
            "y": {"datum": 79.75, "type": "quantitative"},
            "text": {"field": "t"}
          }
        },
        {
          "data": {"name": "ohlc"},
          "mark": {"type": "line", "stroke": "#143614", "strokeWidth": 1.6, "clip": true, "interpolate": "linear"},
          "encoding": {
            "x": {"field": "d", "type": "temporal", "title": null},
            "y": {"field": "r", "type": "quantitative", "title": null}
          }
        },
        {
          "data": {"name": "last"},
          "mark": {"type": "point", "shape": "M-1,0L-0.86,-0.375L1,-0.375L1,0.375L-0.86,0.375Z", "size": 5184, "filled": true, "fill": "#0a380a", "opacity": 1, "strokeWidth": 0},
          "encoding": {
            "x": {"datum": {"year": 2021, "month": 10, "date": 8, "hours": 5, "minutes": 36, "utc": true}, "type": "temporal"},
            "y": {"field": "rsi", "type": "quantitative", "title": null}
          }
        },
        {
          "data": {"name": "last"},
          "mark": {"type": "text", "font": "Liberation Sans", "fontSize": 19, "fill": "#ffffff", "align": "center", "baseline": "middle"},
          "encoding": {
            "x": {"datum": {"year": 2021, "month": 10, "date": 7, "hours": 15, "utc": true}, "type": "temporal"},
            "y": {"field": "rsi", "type": "quantitative", "title": null},
            "text": {"field": "rsi", "type": "quantitative", "format": ".2f"}
          }
        }
      ]
    }
  ]
}
